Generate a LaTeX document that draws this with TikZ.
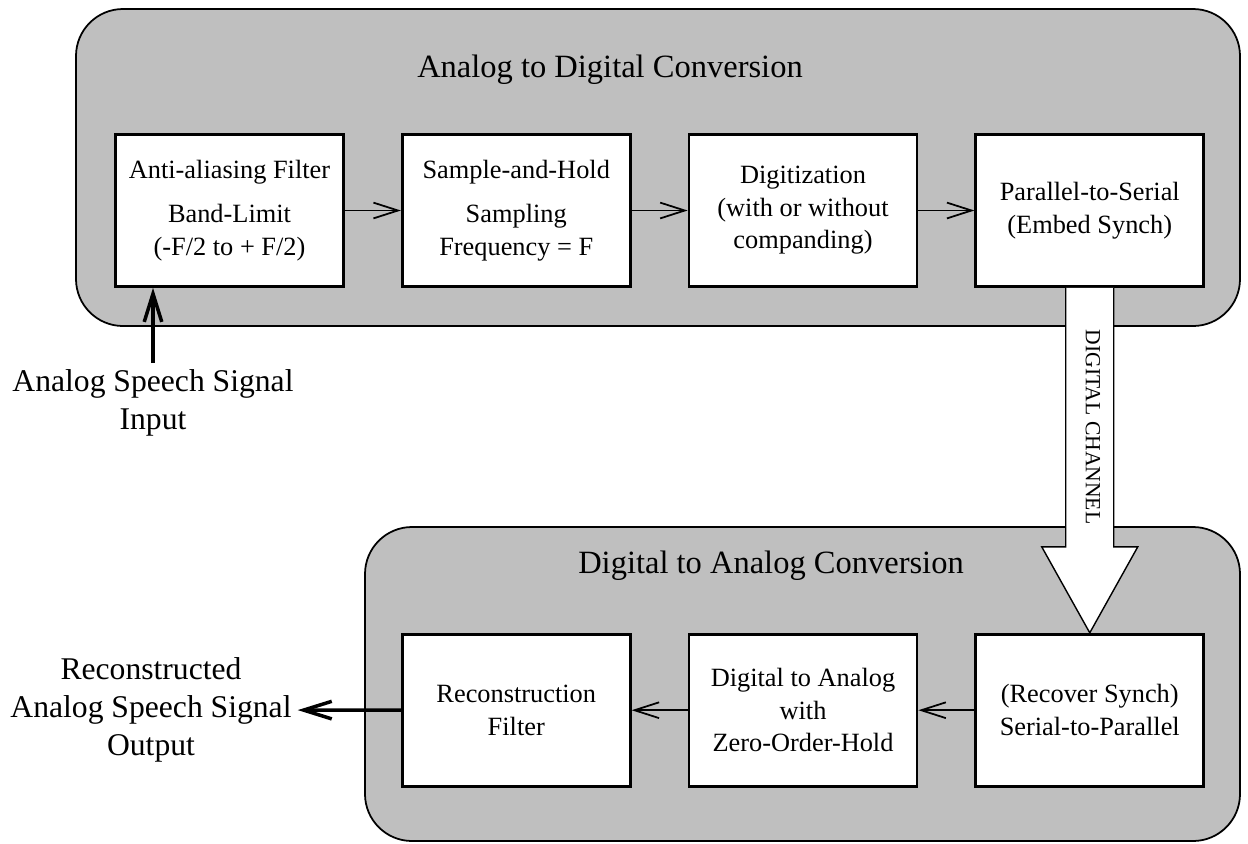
\documentclass[tikz,border=0pt]{standalone}
\usepackage{fontspec}
\setmainfont{Liberation Serif}
\usepackage{tikz}
\usetikzlibrary{positioning,arrows.meta}

\tikzset{
	panel/.style={draw, line width=1pt, fill=black!25, rounded corners=0.94cm},
	block/.style={draw, line width=1.6pt, fill=white, minimum width=4.56cm, minimum height=3.04cm, inner sep=0pt, align=center, font=\fontsize{15}{18.5}\selectfont},
	flow/.style={-{Straight Barb[length=14pt,width=9pt]}, line width=1pt},
	io/.style={-{Straight Barb[length=16pt,width=10pt]}, line width=2pt},
	side/.style={align=center, font=\fontsize{18}{21.6}\selectfont},
	heading/.style={font=\fontsize{18.5}{22}\selectfont},
	chan/.style={draw, line width=0.8pt, fill=white},
}

\begin{document}
\begin{tikzpicture}[x=0.02cm, y=-0.02cm]
	\useasboundingbox (0,0) rectangle (1248,843);
	\draw[panel] (76,9) rectangle (1240,326);
	\draw[panel] (365,527) rectangle (1240,841);
	\node[heading] (adc) at (610,70) {Analog to Digital Conversion};
	\node[heading] (dac) at (771,566) {Digital to Analog Conversion};

	\node[block] (aaf) at (229.5,210.5) {Anti-aliasing Filter\\[7pt]Band-Limit\\(-F/2 to + F/2)};
	\node[block, right=1.12cm of aaf] (sah) {Sample-and-Hold\\[7pt]Sampling\\Frequency = F};
	\node[block, right=1.12cm of sah] (digit) {Digitization\\(with or without\\companding)};
	\node[block, right=1.12cm of digit] (ptos) {Parallel-to-Serial\\(Embed Synch)};
	\node[block, below=6.9cm of ptos] (stop) {(Recover Synch)\\Serial-to-Parallel};
	\node[block, left=1.12cm of stop] (dtoa) {Digital to Analog\\with\\Zero-Order-Hold};
	\node[block, left=1.12cm of dtoa] (recon) {Reconstruction\\Filter};

	\node[side, anchor=north] (input) at (153,363) {Analog Speech Signal\\Input};
	\node[side] (output) at (151,710) {Reconstructed\\Analog Speech Signal\\Output};

	\path[flow] (aaf) edge (sah);
	\path[flow] (sah) edge (digit);
	\path[flow] (digit) edge (ptos);
	\path[flow] (stop) edge (dtoa);
	\path[flow] (dtoa) edge (recon);
	\draw[io] (input.north) -- (input.north |- aaf.south);
	\draw[io] (recon) -- (output);

	% digital channel
	\draw[chan] ([xshift=-0.48cm]ptos.south) -- ++(0,259) -- ++(-24,0) -- (stop.north) -- ++(48,-86) -- ++(-24,0) -- ([xshift=0.48cm]ptos.south);
	\node[rotate=-90, font=\fontsize{12.3}{14}\selectfont] (channel) at (1093,427) {DIGITAL CHANNEL};
\end{tikzpicture}
\end{document}
